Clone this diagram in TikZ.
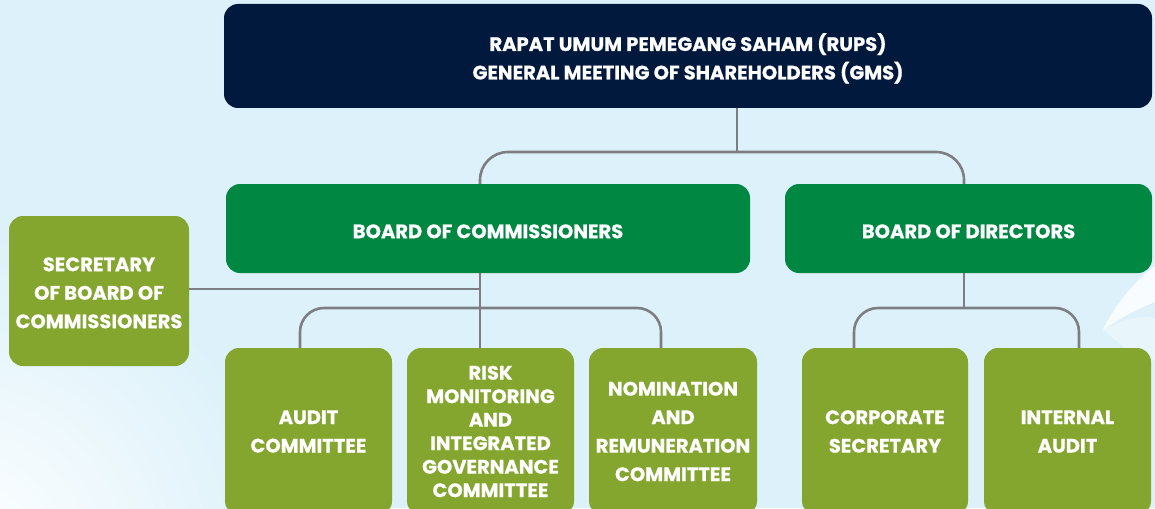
\documentclass[tikz,border=0pt]{standalone}
\usepackage{fontspec}
\setmainfont{Poppins}[BoldFeatures={FakeBold=0.6}]
\definecolor{bg}{HTML}{DCF1FA}
\definecolor{navy}{HTML}{00193D}
\definecolor{dgreen}{HTML}{008843}
\definecolor{lgreen}{HTML}{84A62F}
\definecolor{conn}{HTML}{7D7E83}
\newcommand\lowered[2]{\raisebox{-#1}[\height][\depth]{\begin{tabular}{@{}c@{}}#2\end{tabular}}}
\begin{document}
\begin{tikzpicture}[x=1pt,y=-1pt,
  box/.style={rounded corners=14pt, inner sep=0pt, text=white, align=center,
    font=\bfseries\fontsize{19.5}{28.5}\selectfont},
  topbox/.style={box, fill=navy, minimum width=928pt, minimum height=104pt},
  greenbox/.style={box, fill=dgreen, minimum height=89pt},
  unitbox/.style={box, fill=lgreen, minimum width=167pt, minimum height=167pt},
  link/.style={draw=conn, line width=2.6pt}]
\useasboundingbox (0,0) rectangle (1155,508);
\begin{scope}
\clip (0,0) rectangle (1155,508);
\fill[bg] (0,0) rectangle (1155,508);
\shade[inner color=white, outer color=bg] (-40,560) circle (330pt);
\fill[white, opacity=0.85] (1155,266) .. controls (1130,285) and (1112,310) .. (1103,330)
  .. controls (1120,318) and (1140,308) .. (1155,302) -- cycle;
\fill[white, opacity=0.35] (1103,330) .. controls (1125,318) and (1140,315) .. (1155,318) -- (1155,360) -- (1140,360) -- cycle;
\node[topbox] (rups) at (688,56) {\lowered{3.5pt}{RAPAT UMUM PEMEGANG SAHAM (RUPS)\\GENERAL MEETING OF SHAREHOLDERS (GMS)}};
\node[greenbox, minimum width=524pt] (boc) at (488,228.5) {\lowered{4pt}{BOARD OF COMMISSIONERS}};
\node[greenbox, minimum width=367pt] (bod) at (968.5,228.5) {\lowered{4pt}{BOARD OF DIRECTORS}};
\node[box, fill=lgreen, minimum width=180pt, minimum height=150pt] (sec) at (99,291) {\lowered{3pt}{SECRETARY\\OF BOARD OF\\COMMISSIONERS}};
\node[unitbox] (audit) at (308.5,431.5) {AUDIT\\COMMITTEE};
\node[unitbox, font=\bfseries\fontsize{19.5}{23.5}\selectfont] (risk) at (490.5,431.5) {RISK\\MONITORING\\AND\\INTEGRATED\\GOVERNANCE\\COMMITTEE};
\node[unitbox, minimum width=168pt] (nom) at (673,431.5) {NOMINATION\\AND\\REMUNERATION\\COMMITTEE};
\node[unitbox, minimum width=166pt] (corp) at (885,431.5) {CORPORATE\\SECRETARY};
\node[unitbox] (ia) at (1067.5,431.5) {INTERNAL\\AUDIT};
\coordinate (t) at (737,152);
\coordinate (b1) at (480,152);
\coordinate (b2) at (964,152);
\coordinate (v) at (480,289);
\coordinate (a1) at (300,308);
\coordinate (a3) at (661,308);
\coordinate (d) at (964,308);
\coordinate (d1) at (854,308);
\coordinate (d2) at (1079,308);
\draw[link] (t |- rups.south) -- (t);
\draw[link, rounded corners=28pt] (b1 |- boc.north) -- (b1) -- (b2) -- (b2 |- bod.north);
\draw[link] (sec.east |- v) -- (v);
\draw[link] (v |- boc.south) -- (v |- risk.north);
\draw[link, rounded corners=24pt] (a1 |- audit.north) -- (a1) -- (a3) -- (a3 |- nom.north);
\draw[link] (d |- bod.south) -- (d);
\draw[link, rounded corners=24pt] (d1 |- corp.north) -- (d1) -- (d2) -- (d2 |- ia.north);
\end{scope}
\end{tikzpicture}
\end{document}
